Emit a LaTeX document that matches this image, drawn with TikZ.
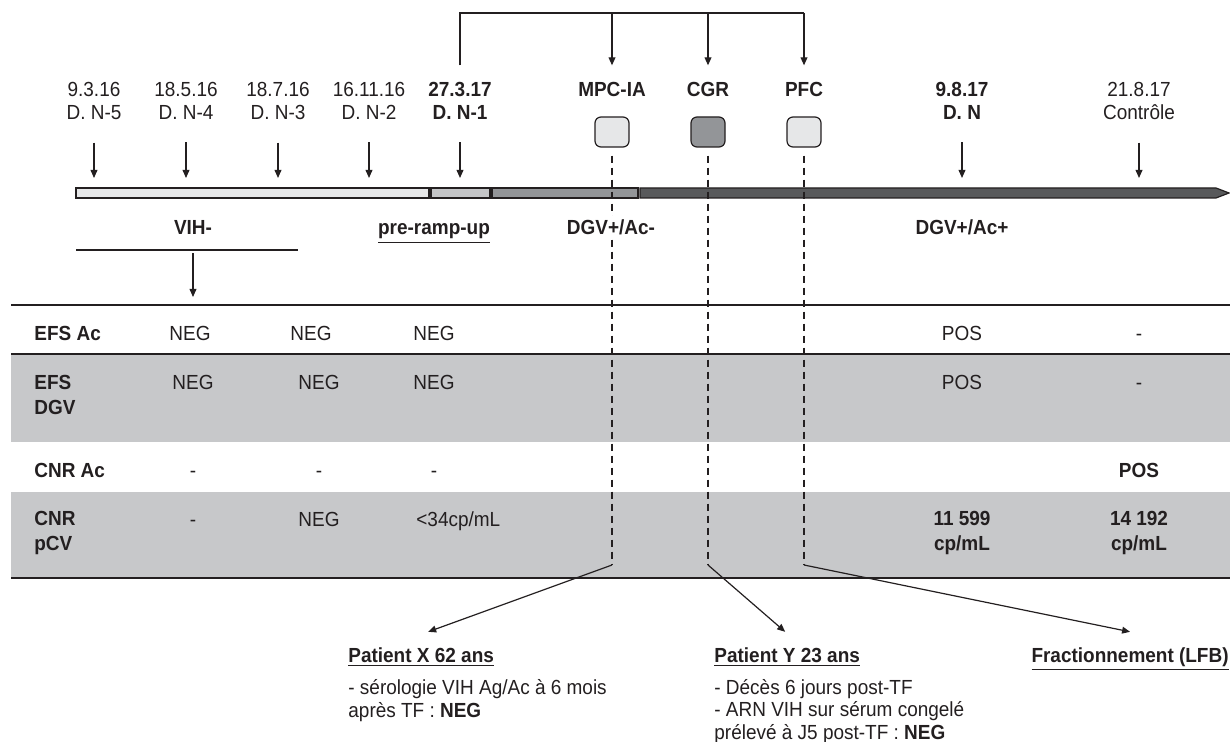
\documentclass[tikz,border=0pt]{standalone}
\usepackage{fontspec}
\setmainfont{Liberation Sans}[FakeStretch=0.93]
\usetikzlibrary{arrows.meta}

\definecolor{ink}{HTML}{231F20}
\definecolor{barA}{HTML}{E6E7E8}
\definecolor{barB}{HTML}{C4C5C7}
\definecolor{barC}{HTML}{939598}
\definecolor{barD}{HTML}{58595B}
\definecolor{rowgray}{HTML}{C7C8CA}

\begin{document}
\begin{tikzpicture}[x=0.5pt,y=-0.5pt,
    every node/.style={inner sep=0pt,text=ink,font=\fontsize{10.2}{11.5}\selectfont},
    strong/.style={font=\fontsize{10.2}{11.5}\selectfont\bfseries},
    rule/.style={draw=ink,line width=0.6pt},
    arr/.style={rule,-{Triangle[length=4pt,width=3.4pt]}},
    dashline/.style={draw=ink,line width=0.6pt,dash pattern=on 3.5pt off 2.5pt},
    tblline/.style={draw=ink,line width=1pt},
    lbl/.style={font=\fontsize{10.2}{12.5}\selectfont\bfseries,align=left,anchor=base west},
    val/.style={anchor=base},
    note/.style={align=left,font=\fontsize{10.2}{11.2}\selectfont}]

        \useasboundingbox (0,0) rectangle (1230,742);

        % table background
        \fill[rowgray] (11,355) rectangle (1230,442);
        \fill[rowgray] (11,492) rectangle (1230,578);
        \draw[tblline] (11,305) -- (1230,305);
        \draw[tblline] (11,354) -- (1230,354);
        \draw[tblline] (11,578) -- (1230,578);

        % timeline bar
        \draw[rule,fill=barA] (76,188) rectangle (429,198);
        \draw[rule,fill=barB] (431,188) rectangle (490,198);
        \draw[rule,fill=barC] (492,188) rectangle (638,198);
        \draw[rule,fill=barD] (640,188) -- (1216,188) -- (1229,193) -- (1216,198) -- (640,198) -- cycle;
        \coordinate (bartop) at (0,178);

        % dates (base = last line)
        \begin{scope}[every node/.append style={align=center,anchor=base}]
          \node (d1) at (94,120)  {9.3.16\\D. N-5};
          \node (d2) at (186,120) {18.5.16\\D. N-4};
          \node (d3) at (278,120) {18.7.16\\D. N-3};
          \node (d4) at (369,120) {16.11.16\\D. N-2};
          \node[strong] (d5) at (460,120) {27.3.17\\D. N-1};
          \node[strong] (dn) at (962,120) {9.8.17\\D. N};
          \node (dc) at (1139,120) {21.8.17\\Contrôle};
        \end{scope}

        \foreach \d in {d1,d2,d3,d4,d5,dn,dc}
          \draw[arr] ([yshift=-11pt]\d.south) -- (\d.south |- bartop);

        % blood products
        \begin{scope}[every node/.append style={strong,anchor=base}]
          \node (mpc) at (612,97) {MPC-IA};
          \node (cgr) at (708,97) {CGR};
          \node (pfc) at (804,97) {PFC};
        \end{scope}

        \begin{scope}[every node/.style={draw=ink,line width=0.6pt,rounded corners=3pt,
            minimum width=17pt,minimum height=15pt,inner sep=0pt}]
          \node[fill=barA] (mpcbox) at (612,132) {};
          \node[fill=barC] (cgrbox) at (708,132) {};
          \node[fill=barA] (pfcbox) at (804,132) {};
        \end{scope}

        \coordinate (brk) at (460,13);
        \draw[rule] ([yshift=8.5pt]d5.north) -- (brk) -- (brk -| pfc.north);
        \foreach \p in {mpc,cgr,pfc}
          \draw[arr] (brk -| \p.north) -- ([yshift=8.5pt]\p.north);

        \coordinate (mpcend) at (612,565);
        \coordinate (cgrend) at (708,565);
        \coordinate (pfcend) at (804,565);
        \draw[dashline] ([yshift=-4pt]mpcbox.south) -- (mpcend);
        \draw[dashline] ([yshift=-4pt]cgrbox.south) -- (cgrend);
        \draw[dashline] ([yshift=-4pt]pfcbox.south) -- (pfcend);

        % phases
        \begin{scope}[every node/.append style={strong,anchor=base}]
          \node (vih)  at (193,235) {VIH-};
          \node (pre)  at (434,235) {\underline{pre-ramp-up}};
          \node[fill=white,inner ysep=2pt] (dgvm) at (611,235) {DGV+/Ac-};
          \node (dgvp) at (962,235) {DGV+/Ac+};
        \end{scope}
        \draw[rule] (76,250) -- (298,250);
        \coordinate (vihend) at (193,297);
        \draw[arr] ([yshift=-9pt]vih.south) -- (vihend);

        % table rows
        \node[lbl] (efsac)  at (34,341) {EFS Ac};
        \node[lbl] (efsdgv) at (34,415) {EFS\\DGV};
        \node[lbl] (cnrac)  at (34,478) {CNR Ac};
        \node[lbl] (cnrpcv) at (34,550) {CNR\\pCV};

        \begin{scope}[every node/.append style={val}]
          \node (a1) at (190,341) {NEG};
          \node (a2) at (311,341) {NEG};
          \node (a3) at (434,341) {NEG};
          \node (a4) at (962,341) {POS};
          \node (a5) at (1139,341) {-};
          \node (b1) at (193,390) {NEG};
          \node (b2) at (319,390) {NEG};
          \node (b3) at (434,390) {NEG};
          \node (b4) at (962,390) {POS};
          \node (b5) at (1139,390) {-};
          \node (c1) at (193,478) {-};
          \node (c2) at (319,478) {-};
          \node (c3) at (434,478) {-};
          \node[strong] (c5) at (1139,478) {POS};
          \node (e1) at (193,526) {-};
          \node (e2) at (319,526) {NEG};
          \node[anchor=base west] (e3) at (416,526) {<34cp/mL};
          \node[lbl,align=center,anchor=base] (e4) at (962,550) {11 599\\cp/mL};
          \node[lbl,align=center,anchor=base] (e5) at (1139,550) {14 192\\cp/mL};
        \end{scope}

        % recipients
        \begin{scope}[every node/.append style={anchor=base west}]
          \node[strong] (px) at (348,662) {\underline{Patient X 62 ans}};
          \node[note] (pxtxt) at (348,717)
            {- sérologie VIH Ag/Ac à 6 mois\\après TF : \textbf{NEG}};
          \node[strong] (py) at (714,662) {\underline{Patient Y 23 ans}};
          \node[note] (pytxt) at (714,739)
            {- Décès 6 jours post-TF\\- ARN VIH sur sérum congelé\\prélevé à J5 post-TF : \textbf{NEG}};
          \node[strong,anchor=base east] (fr) at (1229,662) {\underline{Fractionnement (LFB)}};
        \end{scope}

        \draw[arr] (mpcend) -- ([xshift=3.5pt,yshift=7.5pt]px.north);
        \draw[arr] (cgrend) -- ([xshift=-1pt,yshift=7.5pt]py.north);
        \draw[arr] (pfcend) -- ([yshift=7.5pt]fr.north);

      \end{tikzpicture}
\end{document}
